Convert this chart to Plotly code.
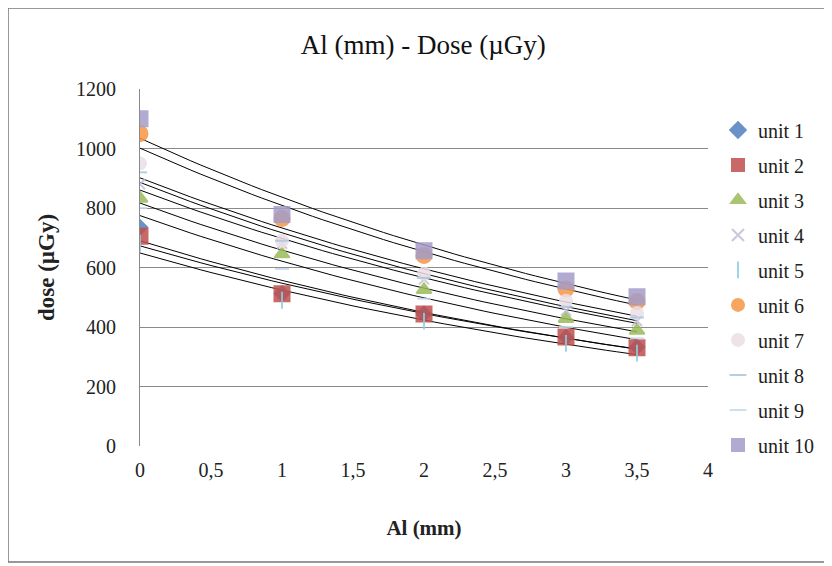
import numpy as np
import plotly.graph_objects as go

al_mm = [0, 1, 2, 3, 3.5]
units = ["unit 1", "unit 2", "unit 3", "unit 4", "unit 5",
         "unit 6", "unit 7", "unit 8", "unit 9", "unit 10"]
dose_u1 = [735, 512, 444, 365, 333]
dose_u2 = [705, 512, 444, 366, 330]
dose_u3 = [832, 645, 525, 428, 388]
dose_u4 = [880, 680, 560, 455, 420]
dose_u5 = [682, 490, 420, 345, 312]
dose_u6 = [1050, 765, 640, 528, 486]
dose_u7 = [950, 690, 580, 488, 447]
dose_u8 = [920, 690, 565, 468, 432]
dose_u9 = [800, 595, 495, 400, 362]
dose_u10 = [1100, 778, 656, 555, 502]
all_dose = [dose_u1, dose_u2, dose_u3, dose_u4, dose_u5,
            dose_u6, dose_u7, dose_u8, dose_u9, dose_u10]

colors = ["#4F81BD", "#C0504D", "#9BBB59", "#c4bcd8", "#8fcbe0",
          "#F79646", "#eadfe6", "#a9c6de", "#c3d9e8", "#a49dc9"]
symbols = ["diamond", "square", "triangle-up", "x-thin-open", "line-ns-open",
           "circle", "circle", "line-ew-open", "line-ew-open", "square"]
sizes = [11, 15, 13, 10, 12, 15, 12, 10, 10, 15]

fig = go.Figure()
xs = np.linspace(0, 3.5, 50)
for name, vals in zip(units, all_dose):
    b, a = np.polyfit(al_mm, np.log(vals), 1)
    fig.add_trace(go.Scatter(x=xs, y=np.exp(a + b * xs), mode="lines",
                             line=dict(color="black", width=1),
                             showlegend=False, hoverinfo="skip"))
for i, (name, vals) in enumerate(zip(units, all_dose)):
    fig.add_trace(go.Scatter(x=al_mm, y=vals, mode="markers", name=name,
                             legendgroup=name,
                             marker=dict(color=colors[i], symbol=symbols[i], size=sizes[i],
                                         opacity=0.85,
                                         line=dict(color=colors[i], width=2))))

serif = "Liberation Serif, DejaVu Serif, serif"
# page body has an 8px margin, so the figure is 8px smaller and margins shifted
fig.update_layout(
    width=824, height=558,
    margin=dict(l=132, r=124, t=81, b=120),
    paper_bgcolor="white", plot_bgcolor="white",
    separators=",.",
    font=dict(family=serif, size=20, color="#222"),
    title=dict(text="Al (mm) - Dose (µGy)", x=0.504, xanchor="center", y=0.934, yanchor="middle",
               font=dict(family=serif, size=27, color="#111")),
    xaxis=dict(range=[0, 4], dtick=0.5, tick0=0, showgrid=False, zeroline=False,
               showline=False, ticks="", ticklabelstandoff=10, automargin=False,
               title=dict(text="<b>Al (mm)</b>", font=dict(size=21), standoff=40)),
    yaxis=dict(range=[0, 1200], dtick=200, showgrid=True, gridcolor="#8a8a8a", gridwidth=1,
               zeroline=False, showline=True, linecolor="#8a8a8a", ticks="",
               ticklabelstandoff=19, automargin=False,
               title=dict(text="<b>dose (µGy)</b>", font=dict(size=23), standoff=14)),
    legend=dict(x=1.0176, y=0.94, xanchor="left", yanchor="top", tracegroupgap=6,
                font=dict(size=20), itemsizing="constant", bgcolor="rgba(0,0,0,0)"),
    shapes=[dict(type="rect", xref="paper", yref="paper",
                 x0=(8 - 140) / 568, x1=(829 - 140) / 568,
                 y0=(446 - 562) / 357, y1=(446 - 8) / 357,
                 line=dict(color="#777", width=1.5), layer="below")],
)
fig.write_html("out.html")
